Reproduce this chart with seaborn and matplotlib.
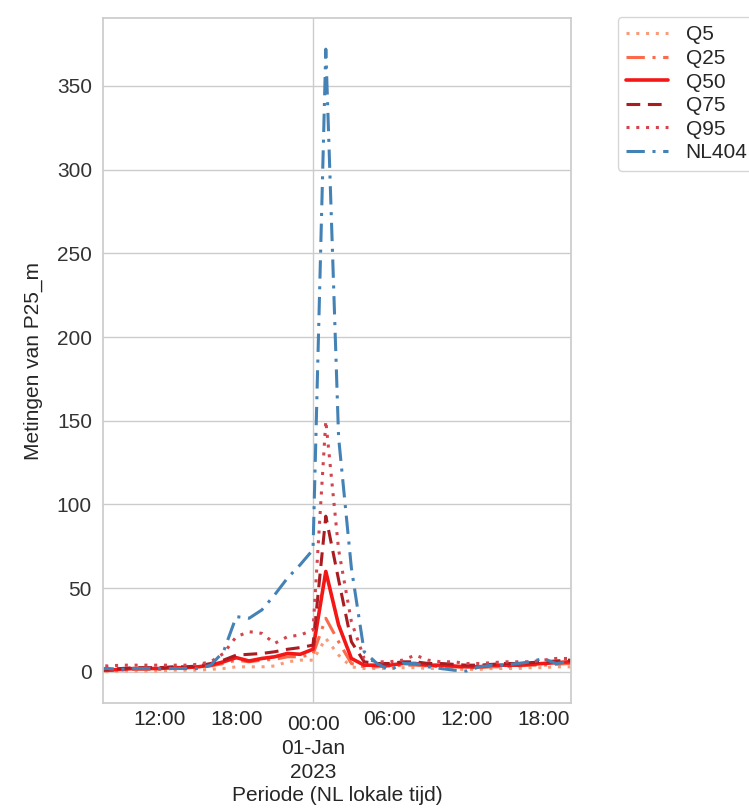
import numpy as np
import pandas as pd
import matplotlib
matplotlib.use("Agg")
import matplotlib.pyplot as plt
import matplotlib.dates as mdates
import seaborn as sns

# Hourly timestamps, 31 Dec 2022 07:00 to 1 Jan 2023 21:00 (local time)
times = pd.date_range("2022-12-31 07:00", "2023-01-01 21:00", freq="h")

q5 = [0, 0.2, 0.5, 0.5, 0.5, 0.5, 1, 1, 1, 1.5, 2, 3, 3, 3, 3.5, 6, 7, 7,
      20, 10, 3, 2, 2, 2, 2.5, 2.5, 2, 2, 1.5, 1.5, 1.5, 2, 2, 2, 2.5, 2.5, 3, 3, 3]
q25 = [0.5, 0.8, 1, 1.5, 1.5, 1.5, 2, 2, 2.5, 3.5, 5, 7, 6, 7, 7.5, 9, 9, 10.5,
       32, 18, 5, 3, 3, 3.5, 4, 4, 3.5, 3, 3, 2.5, 2.5, 3, 3, 3.5, 4, 4, 4.5, 5, 5]
q50 = [1, 1, 1.5, 2, 2, 2, 2.5, 2.5, 3, 4, 6, 8.5, 6.5, 8, 9, 11, 10.5, 13.5,
       60, 28, 8, 4, 4, 4, 5, 5, 4, 4, 3.5, 3, 3, 4, 4, 4, 4.5, 5, 5.5, 6, 6]
q75 = [1.5, 1.5, 2, 2.5, 2.5, 2.5, 3, 3, 3.5, 5, 7, 10, 10.5, 11, 12, 13.5, 14.5, 16,
       93, 55, 18, 6, 5, 5, 6, 6, 5, 5, 4.5, 4, 4, 4.5, 5, 5, 5.5, 6, 6.5, 7, 7]
q95 = [4, 3.5, 4, 4, 4, 4, 4, 4, 4.5, 6, 11, 21, 24, 23, 17, 21, 22, 25,
       150, 73, 30, 8, 6, 6, 7, 10, 7, 6, 6, 5, 5, 5.5, 6, 6, 6, 7, 8, 8, 8]
nl404 = [2, 2, 1.5, 2, 2, 2, 2, 2, 2, 4, 12, 33, 32, 37, 46, 56, 64, 73,
         372, 140, 62, 12, 5, 1, 5, 5, 3, 2, 1, 0.5, 3, 4, 4, 5, 6, 8, 5, 6, 6]

labels = ["Q5", "Q25", "Q50", "Q75", "Q95", "NL404"]
series = [q5, q25, q50, q75, q95, nl404]
colors = ["#f99a78", "#fb6a4a", "#f51616", "#a81c22", "#d2444e", "#4482b6"]
styles = [(0, (1, 2.2)), (0, (6, 2.5, 1, 2.5)), "-", (0, (4.5, 2.5)), (0, (1, 2.2)), (0, (6, 2.5, 1, 2.5))]
widths = [2.2, 2.2, 2.6, 2.2, 2.2, 2.2]

FS = 15

sns.set_theme(style="whitegrid")
plt.rcParams["font.family"] = ["Liberation Sans", "DejaVu Sans"]
plt.rcParams["font.size"] = FS

fig = plt.figure(figsize=(7.49, 8.08), dpi=100)
ax = fig.add_axes([103 / 749, 1 - 703 / 808, 468 / 749, 685 / 808])

for lab, vals, col, ls, lw in zip(labels, series, colors, styles, widths):
    sns.lineplot(x=times, y=vals, ax=ax, color=col, linestyle=ls, linewidth=lw, label=lab)

ax.set_xlim(pd.Timestamp("2022-12-31 07:35"), pd.Timestamp("2023-01-01 20:10"))
ax.xaxis.set_major_locator(mdates.DayLocator())
ax.xaxis.set_major_formatter(mdates.DateFormatter("%H:%M\n%d-%b\n%Y"))
ax.xaxis.set_minor_locator(mdates.HourLocator(byhour=[6, 12, 18]))
ax.xaxis.set_minor_formatter(mdates.DateFormatter("%H:%M"))
ax.grid(True, axis="x", which="major")
ax.grid(False, axis="x", which="minor")
ax.tick_params(axis="both", which="both", labelsize=FS, colors="#333333", length=0)
ax.tick_params(axis="x", which="minor", pad=5)
ax.tick_params(axis="x", which="major", pad=9)
ax.tick_params(axis="y", pad=8)
for lbl in ax.get_xticklabels(minor=True) + ax.get_xticklabels():
    lbl.set_color("#262626")
for lbl in ax.get_xticklabels():
    lbl.set_linespacing(1.3)

ax.set_xlabel("Periode (NL lokale tijd)", fontsize=FS, color="#262626", labelpad=3)
ax.set_ylabel("Metingen van P25_m", fontsize=FS, color="#262626", labelpad=10)

ax.legend(loc="upper left", bbox_to_anchor=(618 / 749, 1 - 17 / 808),
          bbox_transform=fig.transFigure, borderaxespad=0, fontsize=FS,
          handlelength=2.0, handletextpad=0.85, labelspacing=0.22, frameon=True)

fig.savefig("out.png", dpi=100)
